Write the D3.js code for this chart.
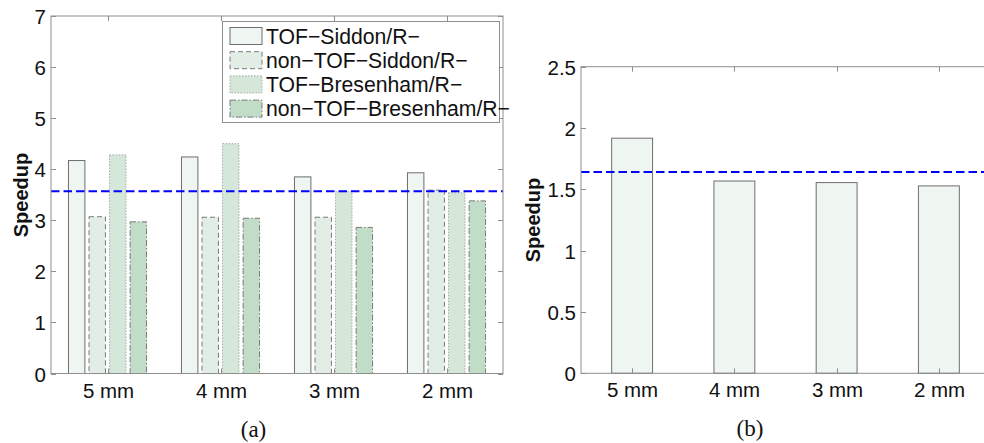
<!DOCTYPE html>
<html>
<head>
<meta charset="utf-8">
<script src="https://cdn.jsdelivr.net/npm/d3@7"></script>
<style>
  body { margin: 0; background: #fff; }
  text { font-family: "Liberation Sans", Arial, sans-serif; fill: #111; }
  .cap { font-family: "Liberation Serif", "Times New Roman", serif; }
</style>
</head>
<body>
<div id="chart"></div>
<script>
// data
const categories = ['5 mm', '4 mm', '3 mm', '2 mm'];
const seriesNames = ['TOF\u2212Siddon/R\u2212', 'non\u2212TOF\u2212Siddon/R\u2212', 'TOF\u2212Bresenham/R\u2212', 'non\u2212TOF\u2212Bresenham/R\u2212'];
const tofSiddon = [4.17, 4.24, 3.85, 3.93];
const nonTofSiddon = [3.07, 3.06, 3.06, 3.59];
const tofBresenham = [4.28, 4.50, 3.56, 3.54];
const nonTofBresenham = [2.97, 3.04, 2.86, 3.38];
const meanA = 3.57;
const yTicksA = [0, 1, 2, 3, 4, 5, 6, 7];

const speedupB = [1.917, 1.568, 1.555, 1.528];
const meanB = 1.642;
const yTicksB = [0, 0.5, 1, 1.5, 2, 2.5];

const W = 984, H = 443;
const svg = d3.select('#chart').append('svg').attr('width', W).attr('height', H);

const fills = ['#eff6f1', '#e2eee5', '#d4e7d9', '#c1dcc7'];
const edges = ['#6e6e6e', '#7a7a7a', '#a8a8a8', '#7a7a7a'];
const dashes = [null, '5,3', '1.5,1.5', '6,2,1.5,2'];
const axisCol = '#8e8e8e';

function frame(g, x, y, ticksY, fmt) {
  const [x0, x1] = x.range();
  const [y0, y1] = y.range();
  const tl = 5;
  // box
  g.append('rect').attr('x', x0).attr('y', y1).attr('width', x1 - x0).attr('height', y0 - y1)
    .attr('fill', 'none').attr('stroke', axisCol).attr('stroke-width', 1);
  ticksY.forEach(t => {
    const yy = Math.round(y(t)) + 0.5;
    g.append('line').attr('x1', x0).attr('x2', x0 + tl).attr('y1', yy).attr('y2', yy).attr('stroke', axisCol);
    g.append('line').attr('x1', x1).attr('x2', x1 - tl).attr('y1', yy).attr('y2', yy).attr('stroke', axisCol);
    g.append('text').attr('x', x0 - 5).attr('y', yy).attr('dy', '0.36em')
      .attr('text-anchor', 'end').style('font-size', '20.5px').text(fmt(t));
  });
  categories.forEach(c => {
    const xx = Math.round(x(c) + x.bandwidth() / 2) + 0.5;
    g.append('line').attr('x1', xx).attr('x2', xx).attr('y1', y1).attr('y2', y1 + tl).attr('stroke', axisCol);
    g.append('line').attr('x1', xx).attr('x2', xx).attr('y1', y0).attr('y2', y0 - tl).attr('stroke', axisCol);
    g.append('text').attr('x', xx).attr('y', y0 + 24).attr('text-anchor', 'middle')
      .style('font-size', '20.5px').text(c);
  });
}

function ylabel(cx, cy) {
  svg.append('text').attr('transform', `translate(${cx},${cy}) rotate(-90)`)
    .attr('text-anchor', 'middle').attr('dy', '0.36em')
    .style('font-size', '20px').style('font-weight', 'bold').text('Speedup');
}

function meanLine(g, x, y, v) {
  g.append('line').attr('x1', x.range()[0]).attr('x2', x.range()[1])
    .attr('y1', y(v)).attr('y2', y(v))
    .attr('stroke', '#0000ff').attr('stroke-width', 2).attr('stroke-dasharray', '8.5,4');
}

// ---- (a)
const xA = d3.scaleBand().domain(categories).range([51, 503]).padding(0);
const yA = d3.scaleLinear().domain([0, 7]).range([373.5, 16]);
const groupW = xA.bandwidth() * 4 / 5.5;
const xInner = d3.scaleBand().domain(d3.range(4)).range([-groupW / 2, groupW / 2])
  .paddingInner(0.2).paddingOuter(0.1);
const seriesA = [tofSiddon, nonTofSiddon, tofBresenham, nonTofBresenham];

const gA = svg.append('g');
seriesA.forEach((vals, s) => {
  gA.selectAll(null).data(vals).join('rect')
    .attr('x', (d, i) => xA(categories[i]) + xA.bandwidth() / 2 + xInner(s))
    .attr('width', xInner.bandwidth())
    .attr('y', d => yA(d))
    .attr('height', d => yA(0) - yA(d))
    .attr('fill', fills[s]).attr('stroke', edges[s]).attr('stroke-width', 1)
    .attr('stroke-dasharray', dashes[s]);
});
meanLine(gA, xA, yA, meanA);
frame(gA, xA, yA, yTicksA, d3.format('d'));
ylabel(20.5, 195);

// legend
const lg = gA.append('g');
lg.append('rect').attr('x', 222.5).attr('y', 21.5).attr('width', 277).attr('height', 101)
  .attr('fill', '#fff').attr('stroke', axisCol);
seriesNames.forEach((n, i) => {
  const cy = 36 + i * 24.2;
  lg.append('rect').attr('x', 230).attr('y', cy - 8.5).attr('width', 32).attr('height', 17)
    .attr('fill', fills[i]).attr('stroke', edges[i]).attr('stroke-dasharray', dashes[i]);
  lg.append('text').attr('x', 266).attr('y', cy).attr('dy', '0.36em')
    .style('font-size', '21.2px').text(n);
});

svg.append('text').attr('class', 'cap').attr('x', 253.5).attr('y', 429).attr('dy', '0.35em')
  .attr('text-anchor', 'middle').style('font-size', '23px').text('(a)');

// ---- (b)
const xB = d3.scaleBand().domain(categories).range([581, 990]).paddingInner(0.6).paddingOuter(0.3);
const xBframe = d3.scaleBand().domain(categories).range([581, 990]).padding(0);
const yB = d3.scaleLinear().domain([0, 2.5]).range([373.3, 66.7]);
const gB = svg.append('g');
gB.selectAll(null).data(speedupB).join('rect')
  .attr('x', (d, i) => xB(categories[i]))
  .attr('width', xB.bandwidth())
  .attr('y', d => yB(d))
  .attr('height', d => yB(0) - yB(d))
  .attr('fill', fills[0]).attr('stroke', edges[0]).attr('stroke-width', 1);
meanLine(gB, xBframe, yB, meanB);
frame(gB, xBframe, yB, yTicksB, d => d3.format('')(d));
ylabel(533, 220);

svg.append('text').attr('class', 'cap').attr('x', 750).attr('y', 428).attr('dy', '0.35em')
  .attr('text-anchor', 'middle').style('font-size', '23px').text('(b)');
</script>
</body>
</html>
